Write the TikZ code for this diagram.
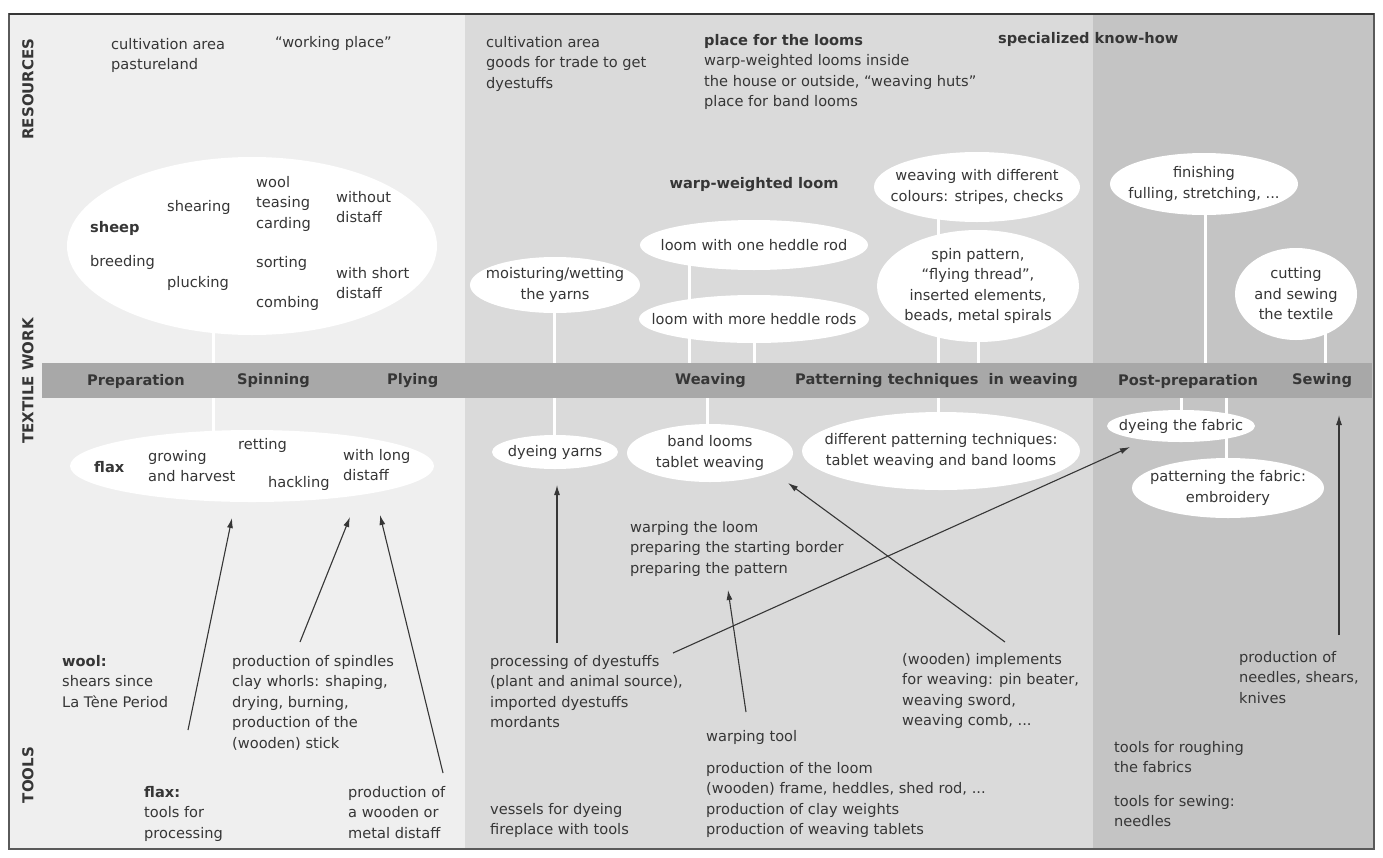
\documentclass[tikz,border=0pt]{standalone}
\usepackage{fontspec}
\setmainfont{DejaVu Sans}
\usetikzlibrary{arrows.meta}

\definecolor{inkgray}{HTML}{363636}
\definecolor{leftgray}{HTML}{EFEFEF}
\definecolor{midgray}{HTML}{DADADA}
\definecolor{rightgray}{HTML}{C4C4C4}
\definecolor{bandgray}{HTML}{A8A8A8}
\definecolor{framegray}{HTML}{5A5A5A}

\pgfdeclarelayer{bg}
\pgfdeclarelayer{links}
\pgfdeclarelayer{bubbles}
\pgfsetlayers{bg,links,bubbles,main}

\newcommand{\diagfont}{\fontsize{14.6}{20.5}\selectfont}

\begin{document}
\begin{tikzpicture}[x=1pt, y=-1pt,
    every node/.style={inner sep=0pt, text=inkgray, font=\diagfont},
    txt/.style={anchor=north west, align=left},
    bubtext/.style={align=center},
    strong/.style={font=\diagfont\bfseries},
    stage/.style={anchor=west, font=\diagfont\bfseries},
    rowtitle/.style={rotate=90, font=\fontsize{15}{18}\selectfont\bfseries},
    link/.style={draw=white, line width=3pt},
    arr/.style={draw=inkgray, line width=1.1pt, -{Latex[length=10pt, width=6pt]}}]

    % Define frame, column and band geometry
    \def\frameL{9} \def\frameR{1374}
    \def\frameT{14} \def\frameB{849}
    \def\colA{465} \def\colB{1093}
    \def\bandT{363} \def\bandB{398}

    \useasboundingbox (0,0) rectangle (1383,857);

    % Column backgrounds
    \begin{pgfonlayer}{bg}
        \fill[white] (0,0) rectangle (1383,857);
        \fill[leftgray] (\frameL,\frameT) rectangle (\colA,\frameB);
        \fill[midgray] (\colA,\frameT) rectangle (\colB,\frameB);
        \fill[rightgray] (\colB,\frameT) rectangle (\frameR,\frameB);
    \end{pgfonlayer}

    % Timeline band
    \begin{pgfonlayer}{bubbles}
        \fill[bandgray] (42,\bandT) rectangle (1372,\bandB);
    \end{pgfonlayer}
    \coordinate (band) at (700,380);

    % Row titles
    \node[rowtitle] (rowres) at (28,89) {RESOURCES};
    \node[rowtitle] (rowwork) at (28,381) {TEXTILE WORK};
    \node[rowtitle] (rowtools) at (28,775) {TOOLS};

    % Stages on the band
    \node[stage] (prep) at (87,381) {Preparation};
    \node[stage] (spinning) at (237,381) {Spinning};
    \node[stage] (plying) at (387,381) {Plying};
    \node[stage] (weaving) at (675,381) {Weaving};
    \node[stage] (patterning) at (795,381) {Patterning techniques\ \ in weaving};
    \node[stage] (postprep) at (1118,381) {Post-preparation};
    \node[stage] (sewing) at (1292,381) {Sewing};

    % Resources
    \node[txt] (resfield) at (111,38) {cultivation area\\pastureland};
    \node[txt] (resplace) at (275,36) {“working place”};
    \node[txt] (restrade) at (486,36) {cultivation area\\goods for trade to get\\dyestuffs};
    \node[txt] (reslooms) at (704,34) {\textbf{place for the looms}\\warp-weighted looms inside\\the house or outside, “weaving huts”\\place for band looms};
    \node[txt, strong] (resknow) at (998,32) {specialized know-how};

    % Wool bubble
    \coordinate (woolbub) at (252,246);
    \node[anchor=west, strong] (sheep) at (90,228) {sheep};
    \node[anchor=west] (shearing) at (167,207) {shearing};
    \node[anchor=west] (breeding) at (90,262) {breeding};
    \node[anchor=west] (plucking) at (167,283) {plucking};
    \node[txt] (teasing) at (256,176) {wool\\teasing\\carding};
    \node[anchor=west] (sorting) at (256,263) {sorting};
    \node[anchor=west] (combing) at (256,303) {combing};
    \node[txt] (nodistaff) at (336,191) {without\\distaff};
    \node[txt] (shortdistaff) at (336,267) {with short\\distaff};

    % Flax bubble
    \coordinate (flaxbub) at (252,466);
    \node[anchor=west, strong] (flax) at (94,467) {flax};
    \node[txt] (growing) at (148,450) {growing\\and harvest};
    \node[anchor=west] (retting) at (238,445) {retting};
    \node[anchor=west] (hackling) at (268,483) {hackling};
    \node[txt] (longdistaff) at (343,449) {with long\\distaff};

    % Textile work bubbles
    \node[bubtext] (moist) at (555,285) {moisturing/wetting\\the yarns};
    \node[strong] (wwloom) at (754,185) {warp-weighted loom};
    \node[bubtext] (heddleone) at (754,245) {loom with one heddle rod};
    \node[bubtext] (heddlemore) at (754,319) {loom with more heddle rods};
    \node[bubtext] (colours) at (977,187) {weaving with different\\colours: stripes, checks};
    \node[bubtext] (spin) at (978,286) {spin pattern,\\“flying thread”,\\inserted elements,\\beads, metal spirals};
    \node[bubtext] (finish) at (1204,184) {finishing\\fulling, stretching, ...};
    \node[bubtext] (cutting) at (1296,294) {cutting\\and sewing\\the textile};
    \node[bubtext] (dyeyarns) at (555,452) {dyeing yarns};
    \node[bubtext] (bandlooms) at (710,453) {band looms\\tablet weaving};
    \node[bubtext] (difpat) at (941,451) {different patterning techniques:\\tablet weaving and band looms};
    \node[bubtext] (dyefab) at (1181,426) {dyeing the fabric};
    \node[bubtext] (patfab) at (1228,488) {patterning the fabric:\\embroidery};
    \node[txt] (warploom) at (630,521) {warping the loom\\preparing the starting border\\preparing the pattern};

    % White bubbles
    \begin{pgfonlayer}{bubbles}
        \foreach \nd/\rx/\ry in {woolbub/185/89, flaxbub/182/36, moist/85/28,
            heddleone/114/25, heddlemore/115/24, colours/103/35, spin/101/56,
            finish/94/31, cutting/61/46, dyeyarns/63/17, bandlooms/83/29,
            difpat/139/39, dyefab/74/16, patfab/96/30}
            \fill[white] (\nd) ellipse [x radius=\rx, y radius=\ry];
    \end{pgfonlayer}

    % White links between bubbles and band
    \begin{pgfonlayer}{links}
        \foreach \nd/\xx in {woolbub/213, moist/554, heddlemore/689, heddlemore/754,
            spin/938, spin/978, finish/1205, cutting/1325, flaxbub/213,
            dyeyarns/554, bandlooms/707, difpat/938, dyefab/1181, patfab/1226}
            \draw[link] (\xx,0 |- \nd) -- (\xx,0 |- band);
        \draw[link] (689,0 |- heddleone) -- (689,0 |- heddlemore);
        \draw[link] (938,0 |- colours) -- (938,0 |- spin);
    \end{pgfonlayer}

    % Tools
    \node[txt] (toolwool) at (62,655) {\textbf{wool:}\\shears since\\La Tène Period};
    \node[txt] (toolspindle) at (232,655) {production of spindles\\clay whorls: shaping,\\drying, burning,\\production of the\\(wooden) stick};
    \node[txt] (toolflax) at (144,786) {\textbf{flax:}\\tools for\\processing};
    \node[txt] (tooldistaff) at (348,786) {production of\\a wooden or\\metal distaff};
    \node[txt] (tooldye) at (490,655) {processing of dyestuffs\\(plant and animal source),\\imported dyestuffs\\mordants};
    \node[txt] (toolvessel) at (490,803) {vessels for dyeing\\fireplace with tools};
    \node[txt] (toolwarp) at (706,730) {warping tool};
    \node[txt] (toolloom) at (706,762) {production of the loom\\(wooden) frame, heddles, shed rod, ...\\production of clay weights\\production of weaving tablets};
    \node[txt] (toolimpl) at (902,653) {(wooden) implements\\for weaving: pin beater,\\weaving sword,\\weaving comb, ...};
    \node[txt] (toolneedle) at (1239,651) {production of\\needles, shears,\\knives};
    \node[txt] (toolrough) at (1114,741) {tools for roughing\\the fabrics};
    \node[txt] (toolsew) at (1114,795) {tools for sewing:\\needles};

    % Arrows from tools up to the work steps
    \foreach \i/\sx/\sy/\ex/\ey in {1/188/730/232/518, 2/300/642/350/517,
        3/443/773/380/515, 4/557/643/557/485, 5/746/712/728/590,
        6/673/653/1130/447, 7/1005/642/788/483, 8/1339/635/1339/415} {
        \coordinate (s\i) at (\sx,\sy);
        \coordinate (e\i) at (\ex,\ey);
        \draw[arr] (s\i) -- (e\i);
    }

    % Frame
    \draw[framegray, line width=1.2pt] (\frameL,\frameT) rectangle (\frameR,\frameB);
    \draw[inkgray, line width=1.8pt] (\frameL,\frameT) -- (\frameR,\frameT);
\end{tikzpicture}
\end{document}
